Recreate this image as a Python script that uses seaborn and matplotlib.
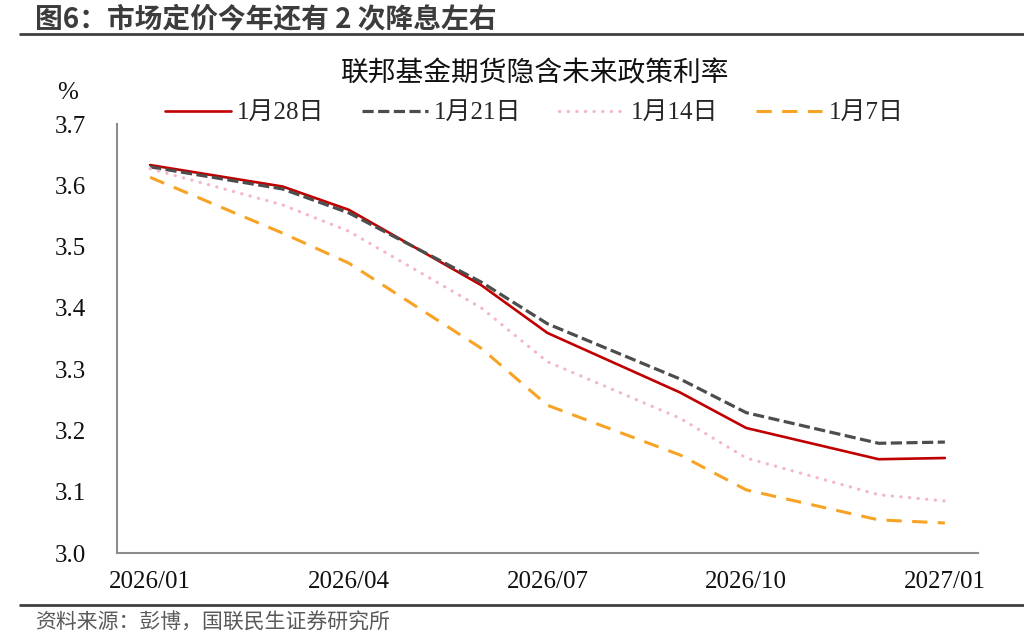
import numpy as np
import pandas as pd
import matplotlib
matplotlib.use("Agg")
import matplotlib.pyplot as plt
from matplotlib.lines import Line2D
from matplotlib.font_manager import FontProperties
import seaborn as sns

# ---------------- data ----------------
months = ["2026/01", "2026/03", "2026/04", "2026/06", "2026/07",
          "2026/09", "2026/10", "2026/12", "2027/01"]
s_0128 = [3.633, 3.598, 3.560, 3.437, 3.359, 3.262, 3.204, 3.153, 3.155]
s_0121 = [3.630, 3.594, 3.555, 3.442, 3.374, 3.284, 3.229, 3.179, 3.181]
s_0114 = [3.627, 3.568, 3.525, 3.400, 3.312, 3.220, 3.155, 3.095, 3.085]
s_0107 = [3.613, 3.522, 3.473, 3.334, 3.241, 3.160, 3.103, 3.054, 3.049]
series_names = ["1月28日", "1月21日", "1月14日", "1月7日"]
tick_labels = ["2026/01", "2026/04", "2026/07", "2026/10", "2027/01"]
y_ticks = [3.0, 3.1, 3.2, 3.3, 3.4, 3.5, 3.6, 3.7]

# month index (Excel-like month bands, points at band centre)
def month_pos(s):
    y, m = s.split("/")
    return (int(y) - 2026) * 12 + int(m) - 1 + 0.5

x_vals = [month_pos(m) for m in months]
df = pd.DataFrame({"x": x_vals * 4,
                   "v": s_0128 + s_0121 + s_0114 + s_0107,
                   "name": sum([[n] * len(months) for n in series_names], [])})

# ---------------- style ----------------
sns.set_theme(style="white")
plt.rcParams["font.family"] = ["Noto Sans CJK SC", "DejaVu Sans"]
serif = ["Liberation Serif", "Noto Sans CJK SC"]

fig = plt.figure(figsize=(10.24, 6.4), dpi=100)
ax = fig.add_axes([117 / 1024, 1 - 553 / 640, 861 / 1024, 429 / 640])

styles = {
    "1月28日": dict(color="#C00000", lw=1.9, linestyle="-"),
    "1月21日": dict(color="#4D4D4D", lw=2.3, linestyle=(0, (3.5, 1.4))),
    "1月14日": dict(color="#F4B8C5", lw=2.3, linestyle=(0, (0.1, 2.6)),
                   dash_capstyle="round"),
    "1月7日": dict(color="#F7A325", lw=2.2, linestyle=(0, (5, 3.4))),
}
for n in series_names:
    sub = df[df["name"] == n]
    sns.lineplot(data=sub, x="x", y="v", ax=ax, label=n, legend=False,
                 **styles[n])

# axes
ax.set_xlim(0, 13)
ax.set_ylim(3.0, 3.7)
ax.set_xlabel("")
ax.set_ylabel("")
for sp in ["top", "right"]:
    ax.spines[sp].set_visible(False)
for sp in ["left", "bottom"]:
    ax.spines[sp].set_color("#8C8C8C")
    ax.spines[sp].set_linewidth(1.5)

ax.set_yticks(y_ticks)
ax.set_yticklabels([f"{v:.1f}" for v in y_ticks])
ax.set_xticks([month_pos(t) - 0.5 for t in tick_labels])
ax.set_xticklabels([""] * len(tick_labels))
ax.set_xticks([month_pos(t) for t in tick_labels], minor=True)
ax.set_xticklabels(tick_labels, minor=True)
ax.tick_params(axis="both", which="major", direction="in", length=6,
               width=1.5, color="#8C8C8C", labelsize=18, labelcolor="#111111")
ax.tick_params(axis="y", pad=22)
ax.tick_params(axis="x", which="minor", length=0, pad=13, labelsize=18,
               labelcolor="#111111")
for lab in ax.get_yticklabels() + ax.get_xticklabels(minor=True):
    lab.set_fontfamily(serif)
ax.grid(False)

# legend
leg = ax.legend(loc="center", bbox_to_anchor=(534 / 1024, 1 - 113 / 640),
                bbox_transform=fig.transFigure, ncol=4, frameon=False,
                prop=FontProperties(family=serif, size=18),
                handlelength=2.64, handletextpad=0.25, columnspacing=1.5,
                borderpad=0, borderaxespad=0)

# texts
fig.text(68 / 1024, 1 - 93 / 640, "%", ha="center", va="center",
         fontsize=18, family=serif, color="#111111")
fig.text(535 / 1024, 1 - 73 / 640, "联邦基金期货隐含未来政策利率",
         ha="center", va="center", fontsize=20, color="#111111")
fig.text(35 / 1024, 1 - 19 / 640, "图6：市场定价今年还有 2 次降息左右",
         ha="left", va="center", fontsize=20, fontweight="bold",
         color="#3C3C3C")
fig.text(35 / 1024, 1 - 623 / 640, "资料来源：彭博，国联民生证券研究所",
         ha="left", va="center", fontsize=15, color="#595959")

fig.add_artist(Line2D([20 / 1024, 1.0], [1 - 34 / 640, 1 - 34 / 640],
                      transform=fig.transFigure, color="#404040", lw=2))
fig.add_artist(Line2D([20 / 1024, 1.0], [1 - 605 / 640, 1 - 605 / 640],
                      transform=fig.transFigure, color="#404040", lw=2))

fig.savefig("out.png", dpi=100)
